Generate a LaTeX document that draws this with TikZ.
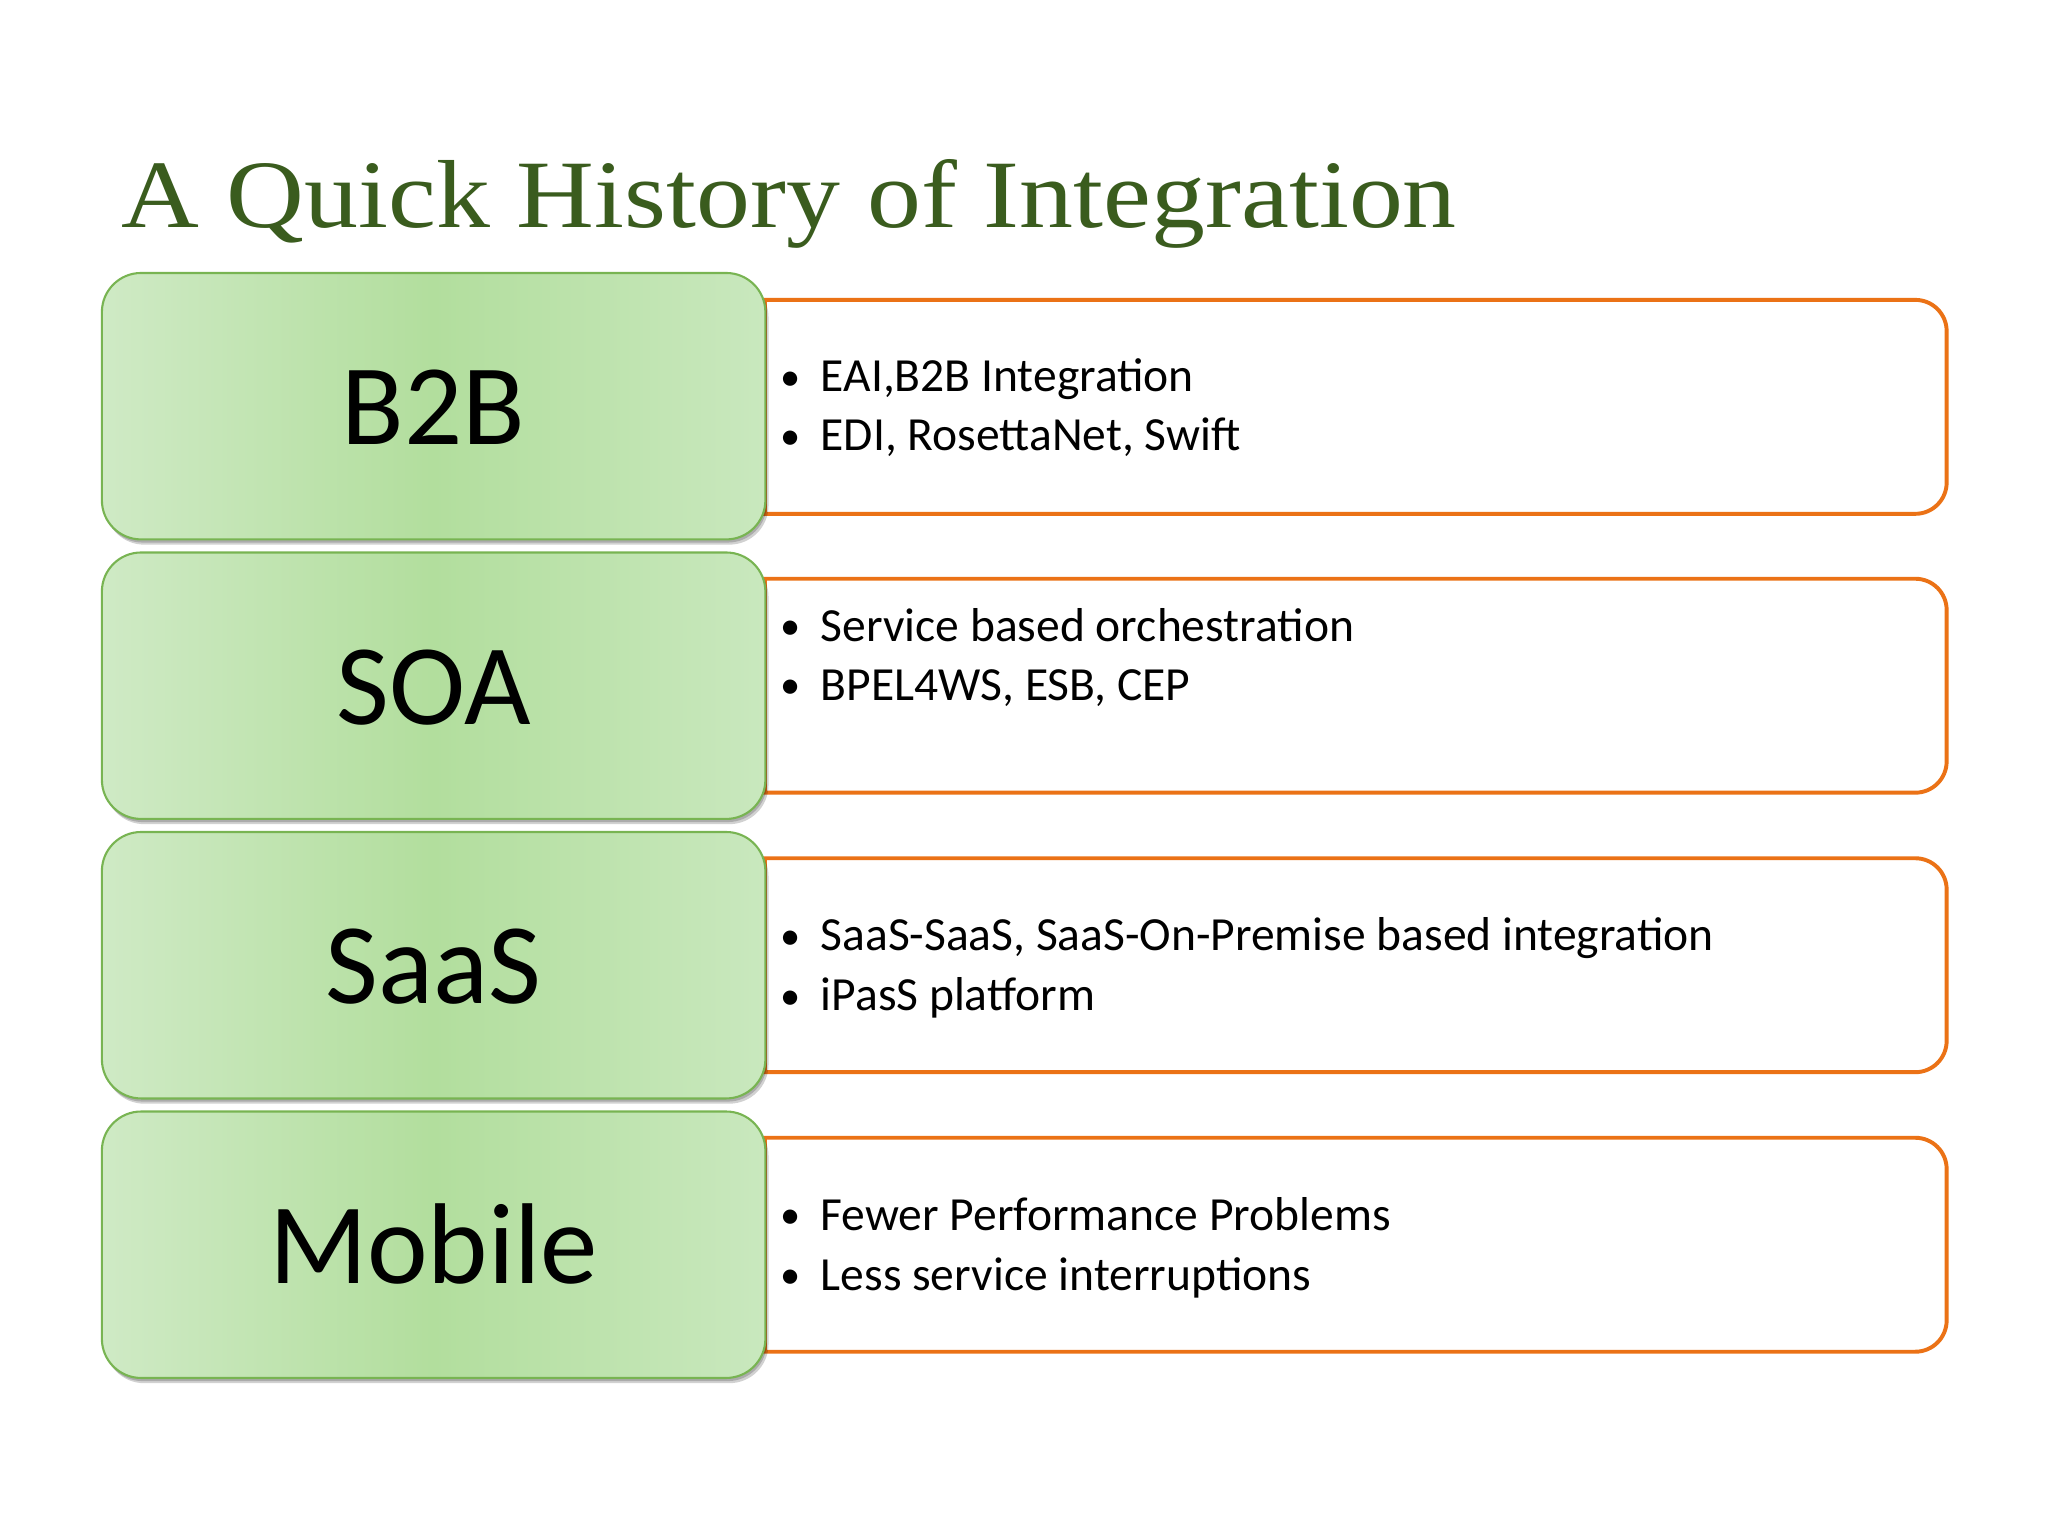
\documentclass[tikz,border=0pt]{standalone}
\usepackage{fontspec}
\setmainfont{Carlito}
\newfontfamily\titlefont[FakeStretch=1.115]{Liberation Serif}
\usetikzlibrary{shadows}
\definecolor{titlegreen}{RGB}{58,92,30}
\definecolor{gboxL}{RGB}{207,234,197}
\definecolor{gboxM}{RGB}{178,222,157}
\definecolor{gboxR}{RGB}{201,232,190}
\definecolor{gborder}{RGB}{120,180,82}
\definecolor{orangeln}{RGB}{235,114,22}
\newcommand\bul{\makebox[15.5pt][l]{\raisebox{0.6pt}{\scalebox{0.85}{•}}}}
\tikzset{
  titletext/.style={anchor=base west, inner sep=0pt, text=titlegreen,
    font=\titlefont\fontsize{37}{40}\selectfont},
  greenbox/.style={draw=gborder, line width=0.8pt, rounded corners=15pt,
    minimum width=254pt, minimum height=102pt, inner sep=0pt,
    left color=gboxL, right color=gboxR, middle color=gboxM,
    text height=29.6pt, text depth=0pt,
    font=\fontsize{44}{48}\selectfont,
    drop shadow={shadow xshift=1.2pt, shadow yshift=-2pt, opacity=0.18, fill=black},
    drop shadow={shadow xshift=0.6pt, shadow yshift=-1.2pt, opacity=0.18, fill=black}},
  obox/.style={minimum width=452pt, minimum height=81.5pt, inner sep=0pt, fill=white},
  oline/.style={draw=orangeln, line width=1.5pt},
  item/.style={anchor=base west, inner sep=0pt, font=\fontsize{18.2}{21}\selectfont}
}
\begin{document}
\begin{tikzpicture}[x=0.5pt,y=-0.5pt]
\useasboundingbox[fill=white] (0,0) rectangle (1568,1176);

\node[titletext] (title) at (93,174) {A Quick History of Integration};

% orange boxes
\foreach \n/\cy in {o1/311.5, o2/525, o3/739, o4/953}{
  \node[obox] (\n) at (1038,\cy) {};
  \draw[oline] (\n.north west) [rounded corners=12pt] -- (\n.north east) -- (\n.south east) [sharp corners] -- (\n.south west) -- cycle;
}

% green boxes
\node[greenbox] (b2b) at (332,311) {B2B};
\node[greenbox] (soa) at (332,525) {SOA};
\node[greenbox] (saas) at (332,739) {SaaS};
\node[greenbox] (mobile) at (332,953) {Mobile};

% bullet texts
\node[item] (t1a) at (597,300) {\bul EAI,B2B Integration};
\node[item] (t1b) at (597,345) {\bul EDI, RosettaNet, Swift};
\node[item] (t2a) at (597,491) {\bul Service based orchestration};
\node[item] (t2b) at (597,536) {\bul BPEL4WS, ESB, CEP};
\node[item] (t3a) at (597,728) {\bul SaaS-SaaS, SaaS-On-Premise based integration};
\node[item] (t3b) at (597,774) {\bul iPasS platform};
\node[item] (t4a) at (597,942) {\bul Fewer Performance Problems};
\node[item] (t4b) at (597,988) {\bul Less service interruptions};
\end{tikzpicture}
\end{document}
